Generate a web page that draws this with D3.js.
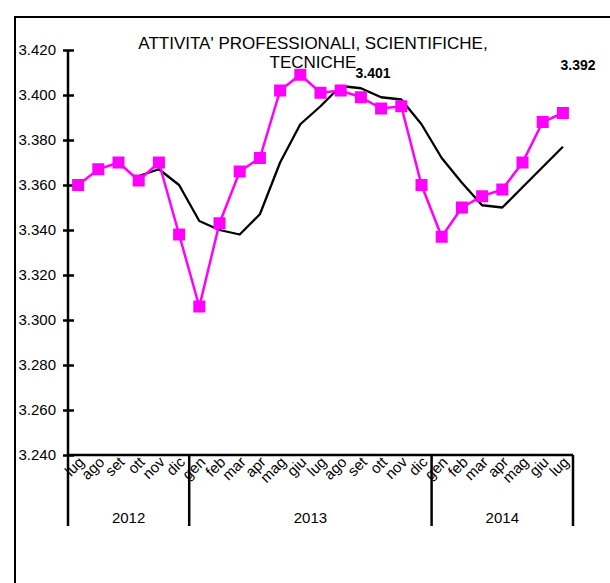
<!DOCTYPE html>
<html>
<head>
<meta charset="utf-8">
<style>
  body { margin: 0; background: #fff; }
  svg text { font-family: "Liberation Sans", Arial, sans-serif; fill: #000; }
</style>
</head>
<body>
<svg id="chart" width="610" height="583"></svg>
<script src="https://d3js.org/d3.v7.min.js"></script>
<script>

var months = ['lug','ago','set','ott','nov','dic',
  'gen','feb','mar','apr','mag','giu','lug','ago','set','ott','nov','dic',
  'gen','feb','mar','apr','mag','giu','lug'];
var years = [
  {label: '2012', count: 6},
  {label: '2013', count: 12},
  {label: '2014', count: 7}
];
// monthly values (magenta)
var monthly = [3.360, 3.367, 3.370, 3.362, 3.370, 3.338,
  3.306, 3.343, 3.366, 3.372, 3.402, 3.409, 3.401, 3.402, 3.399, 3.394, 3.395, 3.360,
  3.337, 3.350, 3.355, 3.358, 3.370, 3.388, 3.392];
// trend (black), starts at ott 2012
var trend = [null, null, null, 3.364, 3.367, 3.360,
  3.344, 3.340, 3.338, 3.347, 3.370, 3.387, 3.395, 3.404, 3.403, 3.399, 3.398, 3.387,
  3.372, 3.361, 3.351, 3.350, 3.359, 3.368, 3.377];
var yTicks = [3.240, 3.260, 3.280, 3.300, 3.320, 3.340, 3.360, 3.380, 3.400, 3.420];
var titleLines = ["ATTIVITA' PROFESSIONALI, SCIENTIFICHE,", "TECNICHE"];
var notes = [{i: 12, text: '3.401'}, {i: 24, text: '3.392'}];

var svg = d3.select('#chart');

// outer frame
svg.append('rect')
    .attr('x', 15).attr('y', 17)
    .attr('width', 640).attr('height', 620)
    .attr('fill', 'none').attr('stroke', '#000').attr('stroke-width', 2);

var x = d3.scaleBand()
    .domain(d3.range(months.length))
    .range([68, 573]);

var y = d3.scaleLinear()
    .domain([3.24, 3.42])
    .range([455, 50]);

var fmt = function(d) { return d3.format('.3f')(d); };

// y axis
var ya = svg.append('g')
    .attr('transform', 'translate(68,0)')
    .call(d3.axisLeft(y).tickValues(yTicks).tickFormat(fmt).tickSize(5).tickPadding(7));
ya.select('.domain').remove();
ya.selectAll('.tick line').attr('stroke', '#000').attr('stroke-width', 2.5).attr('x2', 6).attr('x1', -5);
ya.selectAll('.tick text').attr('font-size', 15).attr('font-family', '"Liberation Sans", Arial, sans-serif');
svg.append('line')
    .attr('x1', 68).attr('x2', 68).attr('y1', y(3.42)).attr('y2', 526)
    .attr('stroke', '#000').attr('stroke-width', 2.5);

// x axis + year separators
svg.append('line')
    .attr('x1', 68).attr('x2', 573).attr('y1', y(3.24)).attr('y2', y(3.24))
    .attr('stroke', '#000').attr('stroke-width', 2.5);

var start = 0;
years.forEach(function(yr) {
  var x0 = x(start), x1 = x(start + yr.count - 1) + x.bandwidth();
  svg.append('line')
      .attr('x1', x1).attr('x2', x1).attr('y1', y(3.24)).attr('y2', 526)
      .attr('stroke', '#000').attr('stroke-width', 2.5);
  svg.append('text')
      .attr('x', (x0 + x1) / 2).attr('y', 523)
      .attr('text-anchor', 'middle')
      .attr('font-size', 15)
      .text(yr.label);
  start += yr.count;
});

svg.selectAll('.month')
  .data(months)
  .enter().append('text')
    .attr('class', 'month')
    .attr('transform', function(d, i) {
      return 'translate(' + (x(i) + x.bandwidth() / 2 + 7) + ',463) rotate(-45)';
    })
    .attr('text-anchor', 'end')
    .attr('font-size', 15)
    .text(function(d) { return d; });

var cx = function(i) { return x(i) + x.bandwidth() / 2; };

// trend line
var trendLine = d3.line()
    .defined(function(d) { return d != null; })
    .x(function(d, i) { return cx(i); })
    .y(function(d) { return y(d); });

svg.append('path')
    .datum(trend)
    .attr('fill', 'none')
    .attr('stroke', '#000')
    .attr('stroke-width', 2.3)
    .attr('stroke-linejoin', 'round')
    .attr('d', trendLine);

// monthly line
var line = d3.line()
    .x(function(d, i) { return cx(i); })
    .y(function(d) { return y(d); });

svg.append('path')
    .datum(monthly)
    .attr('fill', 'none')
    .attr('stroke', '#ff00ff')
    .attr('stroke-width', 2.5)
    .attr('d', line);

svg.selectAll('.pt')
  .data(monthly)
  .enter().append('rect')
    .attr('class', 'pt')
    .attr('x', function(d, i) { return cx(i) - 6; })
    .attr('y', function(d) { return y(d) - 6; })
    .attr('width', 12).attr('height', 12)
    .attr('fill', '#ff00ff');

// title
svg.selectAll('.title')
  .data(titleLines)
  .enter().append('text')
    .attr('class', 'title')
    .attr('x', 313)
    .attr('y', function(d, i) { return 49 + i * 19; })
    .attr('text-anchor', 'middle')
    .attr('font-size', 17)
    .text(function(d) { return d; });

// value notes
svg.selectAll('.note')
  .data(notes)
  .enter().append('text')
    .attr('class', 'note')
    .attr('x', function(d) { return d.i === 12 ? 373 : 578; })
    .attr('y', function(d) { return d.i === 12 ? 78 : 70; })
    .attr('text-anchor', 'middle')
    .attr('font-size', 14)
    .attr('font-weight', 'bold')
    .text(function(d) { return d.text; });

</script>
</body>
</html>
